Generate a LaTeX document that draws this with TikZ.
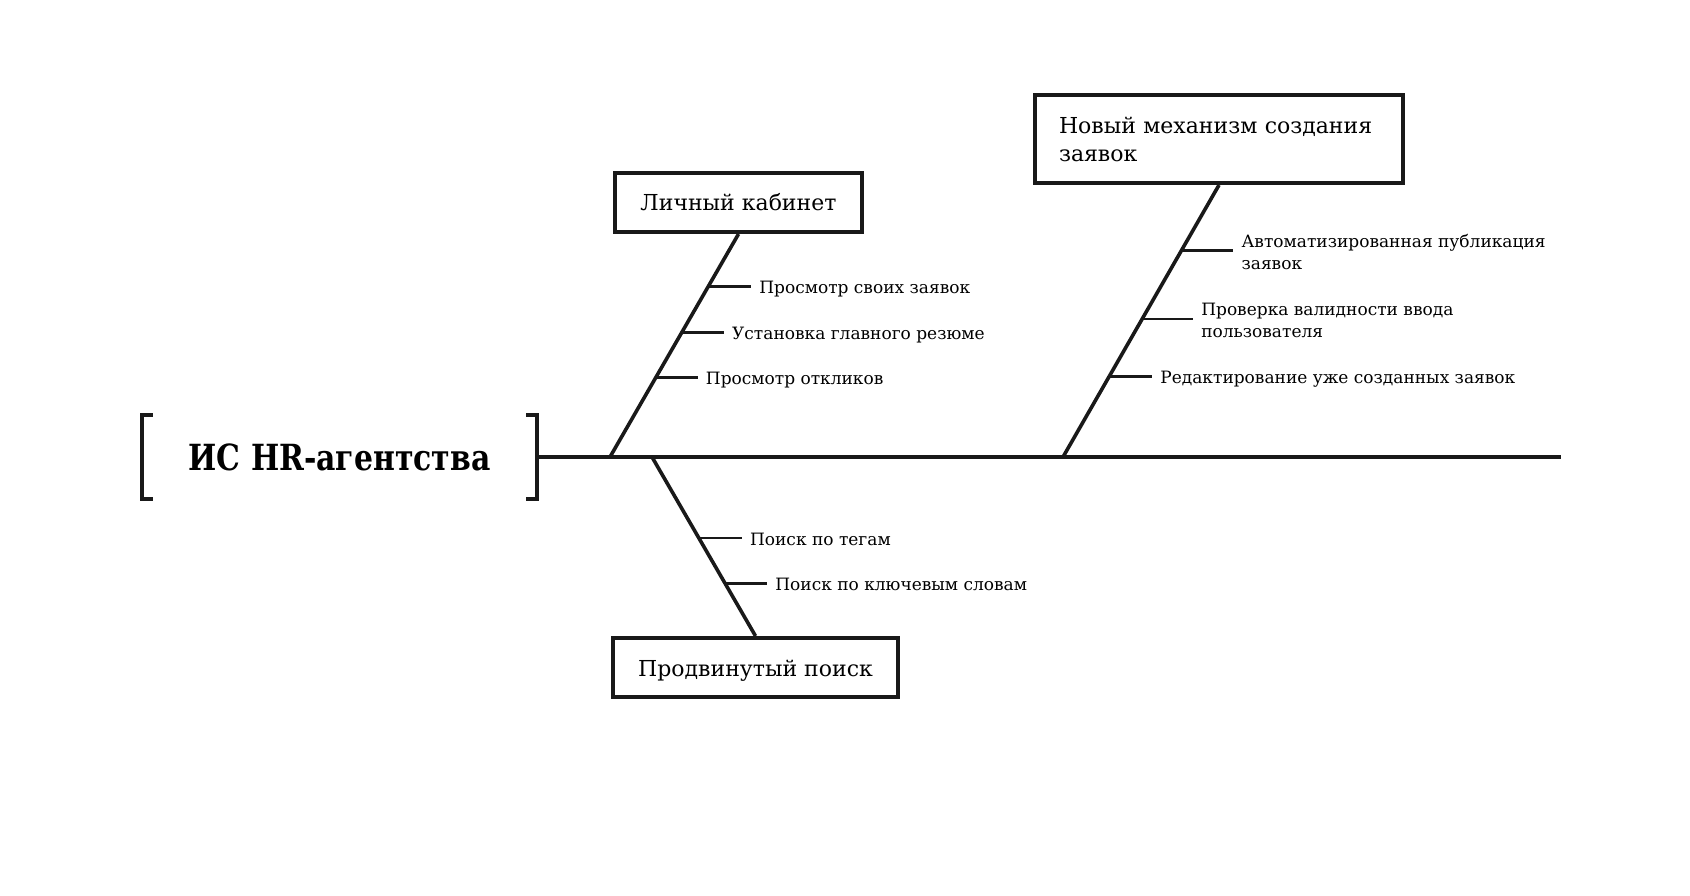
\documentclass[tikz,border=0pt]{standalone}
\usepackage{fontspec}
\setmainfont{DejaVu Serif}
\newfontfamily\headfont{DejaVu Serif Bold}[FakeStretch=0.83]
\usetikzlibrary{positioning}
\colorlet{ink}{black!90}

\begin{document}
\begin{tikzpicture}[x=1pt,y=-1pt,
  bone/.style={draw=ink,line width=3.6pt},
  twig/.style={draw=ink,line width=2.8pt},
  catbox/.style={draw=ink,line width=4pt,fill=white,inner sep=0pt,
    font=\fontsize{22}{28}\selectfont},
  item/.style={inner sep=0pt,align=left,anchor=base west,
    font=\fontsize{17}{22}\selectfont},
  oneline/.style={item,xshift=8pt,yshift=-7pt},
  twoline/.style={item,xshift=8pt,yshift=-18.5pt}]

\useasboundingbox (0,0) rectangle (1690,896);

% head and spine
\node[minimum width=395pt,minimum height=84pt,inner sep=0pt,
  font=\headfont\fontsize{36}{40}\selectfont] (hd) at (339.5,457) {ИС HR-агентства};
\draw[ink,line width=4pt] ([xshift=11pt]hd.north west) -| (hd.south west) -- ++(11,0);
\draw[ink,line width=4pt] ([xshift=-11pt]hd.north east) -| (hd.south east) -- ++(-11,0);
\coordinate (tail) at (1561,457);
\draw[bone,line width=4pt] (hd.east) -- (tail);

% categories
\node[catbox,minimum width=247pt,minimum height=59pt] (lk) at (738.5,202.5) {Личный кабинет};
\node[catbox,minimum height=88pt,text width=320pt,inner xsep=24pt,align=left] (nm) at (1219,139) {Новый механизм создания\\заявок};
\node[catbox,minimum width=285pt,minimum height=59pt,text height=17pt,text depth=0pt] (ps) at (755.5,667.5) {Продвинутый поиск};

% bones
\coordinate (b1) at (610,457);
\coordinate (b2) at (1063,457);
\coordinate (b3) at (652,457);
\draw[bone] (b1) -- (lk.south);
\draw[bone] (b2) -- (nm.south);
\draw[bone] (b3) -- (ps.north);

% Личный кабинет
\path (b1) -- (lk.south) coordinate[pos=0.764] (t11) coordinate[pos=0.56] (t12) coordinate[pos=0.356] (t13);
\node[right=43pt of t11,oneline] (i11) {Просмотр своих заявок};
\node[right=42pt of t12,oneline] (i12) {Установка главного резюме};
\node[right=42pt of t13,oneline] (i13) {Просмотр откликов};
\draw[twig] (t11) -- ([xshift=-8pt]i11.west |- t11);
\draw[twig] (t12) -- ([xshift=-8pt]i12.west |- t12);
\draw[twig] (t13) -- ([xshift=-8pt]i13.west |- t13);

% Новый механизм
\path (b2) -- (nm.south) coordinate[pos=0.759] (t21) coordinate[pos=0.507] (t22) coordinate[pos=0.296] (t23);
\node[right=52pt of t21,twoline] (i21) {Автоматизированная публикация\\заявок};
\node[right=51pt of t22,twoline] (i22) {Проверка валидности ввода\\пользователя};
\node[right=43pt of t23,oneline] (i23) {Редактирование уже созданных заявок};
\draw[twig] (t21) -- ([xshift=-8pt]i21.west |- t21);
\draw[twig] (t22) -- ([xshift=-8pt]i22.west |- t22);
\draw[twig] (t23) -- ([xshift=-8pt]i23.west |- t23);

% Продвинутый поиск
\path (b3) -- (ps.north) coordinate[pos=0.453] (t31) coordinate[pos=0.707] (t32);
\node[right=43pt of t31,oneline] (i31) {Поиск по тегам};
\node[right=42pt of t32,oneline] (i32) {Поиск по ключевым словам};
\draw[twig] (t31) -- ([xshift=-8pt]i31.west |- t31);
\draw[twig] (t32) -- ([xshift=-8pt]i32.west |- t32);

\end{tikzpicture}
\end{document}
